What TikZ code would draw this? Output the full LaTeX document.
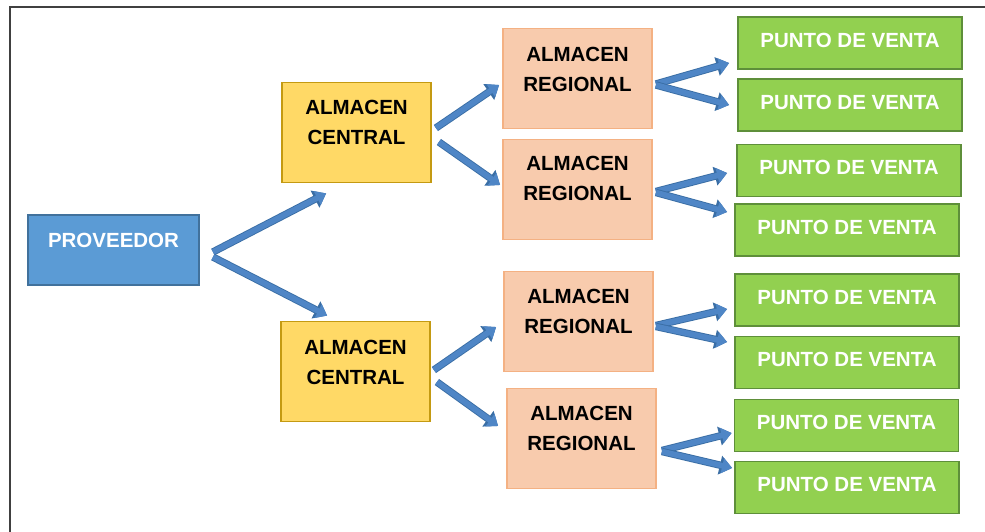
\documentclass[tikz,border=0pt]{standalone}
\usepackage{fontspec}
\setmainfont{Liberation Sans}
\usetikzlibrary{arrows.meta}

\definecolor{provfill}{HTML}{5B9BD5}
\definecolor{provdraw}{HTML}{41719C}
\definecolor{cenfill}{HTML}{FFD966}
\definecolor{cendraw}{HTML}{C49A12}
\definecolor{regfill}{HTML}{F8CBAD}
\definecolor{regdraw}{HTML}{F4B183}
\definecolor{pvfill}{HTML}{92D050}
\definecolor{pvdraw}{HTML}{5E8F3A}
\definecolor{arrlight}{HTML}{4F86C6}
\definecolor{arrdark}{HTML}{3A6EA5}
\definecolor{framecol}{HTML}{404040}

\tikzset{
  box/.style={rectangle, line width=1.8pt, inner sep=0pt},
  provbox/.style={box, fill=provfill, draw=provdraw, minimum width=171pt, minimum height=70pt},
  cenbox/.style={box, fill=cenfill, draw=cendraw, minimum width=149pt, minimum height=100pt},
  regbox/.style={box, fill=regfill, draw=regdraw, minimum width=149pt, minimum height=100pt},
  pvbox/.style={box, fill=pvfill, draw=pvdraw, minimum width=224pt, minimum height=52pt},
  lbl/.style={inner sep=0pt, align=center, font=\fontsize{20.5}{30}\selectfont\bfseries},
  wlbl/.style={lbl, text=white},
  blbl/.style={lbl, text=black},
  flow/.style={line width=5.6pt, draw=arrlight, -{Triangle[length=10pt,width=15pt]},
    preaction={draw=arrdark, line width=7.4pt, -{Triangle[length=12.5pt,width=18.5pt]}}},
}

\begin{document}
\begin{tikzpicture}[x=1pt, y=-1pt]
\useasboundingbox (0,0) rectangle (985,532);

% frame
\draw[framecol, line width=2.4pt] (10,532) -- (10,7) -- (985,7);

% supplier
\node[provbox] (p) at (113.5,250) {};
\node[wlbl] (p-t) at ([yshift=10pt]p.center) {PROVEEDOR};

% central warehouses
\node[cenbox] (c1) at (356.5,132.5) {};
\node[blbl] (c1-t) at ([yshift=10.5pt]c1.center) {ALMACEN\\CENTRAL};
\node[cenbox] (c2) at (355.5,371.5) {};
\node[blbl] (c2-t) at ([yshift=9.5pt]c2.center) {ALMACEN\\CENTRAL};

% regional warehouses
\node[regbox] (r1) at (577.5,78.5) {};
\node[blbl] (r1-t) at ([yshift=9.5pt]r1.center) {ALMACEN\\REGIONAL};
\node[regbox] (r2) at (577.5,189.5) {};
\node[blbl] (r2-t) at ([yshift=11pt]r2.center) {ALMACEN\\REGIONAL};
\node[regbox] (r3) at (578.5,321.5) {};
\node[blbl] (r3-t) at ([yshift=10pt]r3.center) {ALMACEN\\REGIONAL};
\node[regbox] (r4) at (581.5,438.5) {};
\node[blbl] (r4-t) at ([yshift=10pt]r4.center) {ALMACEN\\REGIONAL};

% points of sale
\node[pvbox] (pv1) at (850,43) {};
\node[wlbl] at ([yshift=3pt]pv1.center) {PUNTO DE VENTA};
\node[pvbox] (pv2) at (850,105) {};
\node[wlbl] at ([yshift=3pt]pv2.center) {PUNTO DE VENTA};
\node[pvbox] (pv3) at (849,170.5) {};
\node[wlbl] at ([yshift=3pt]pv3.center) {PUNTO DE VENTA};
\node[pvbox] (pv4) at (847,230) {};
\node[wlbl] at ([yshift=3pt]pv4.center) {PUNTO DE VENTA};
\node[pvbox] (pv5) at (847,300) {};
\node[wlbl] at ([yshift=3pt]pv5.center) {PUNTO DE VENTA};
\node[pvbox] (pv6) at (847,362.5) {};
\node[wlbl] at ([yshift=3pt]pv6.center) {PUNTO DE VENTA};
\node[pvbox] (pv7) at (846.5,425.5) {};
\node[wlbl] at ([yshift=3pt]pv7.center) {PUNTO DE VENTA};
\node[pvbox] (pv8) at (847,487.5) {};
\node[wlbl] at ([yshift=3pt]pv8.center) {PUNTO DE VENTA};

% flows: supplier -> central
\draw[flow] ([shift={(13,2)}]p.east) -- ([shift={(45,10)}]c1.south west);
\draw[flow] ([shift={(13,7)}]p.east) -- ([shift={(47,-5)}]c2.north west);

% central -> regional
\draw[flow] ([shift={(4,-4.5)}]c1.east) -- ([shift={(-3,6.5)}]r1.west);
\draw[flow] ([shift={(7,9.5)}]c1.east) -- ([shift={(-2,-4.5)}]r2.west);
\draw[flow] ([shift={(3,-1.5)}]c2.east) -- ([shift={(-7,5.5)}]r3.west);
\draw[flow] ([shift={(6,10.5)}]c2.east) -- ([shift={(-8,-12.5)}]r4.west);

% regional -> points of sale
\draw[flow] ([shift={(3,5.5)}]r1.east) -- ([shift={(-8,20)}]pv1.west);
\draw[flow] ([shift={(3,6.5)}]r1.east) -- ([shift={(-8,0)}]pv2.west);
\draw[flow] ([shift={(3,2)}]r2.east) -- ([shift={(-9,2.5)}]pv3.west);
\draw[flow] ([shift={(3,3)}]r2.east) -- ([shift={(-7,-18)}]pv4.west);
\draw[flow] ([shift={(2,4)}]r3.east) -- ([shift={(-7,9)}]pv5.west);
\draw[flow] ([shift={(2,5)}]r3.east) -- ([shift={(-7,-20.5)}]pv6.west);
\draw[flow] ([shift={(5,12)}]r4.east) -- ([shift={(-2,7.5)}]pv7.west);
\draw[flow] ([shift={(5,13)}]r4.east) -- ([shift={(-2,-19.5)}]pv8.west);
\end{tikzpicture}
\end{document}
